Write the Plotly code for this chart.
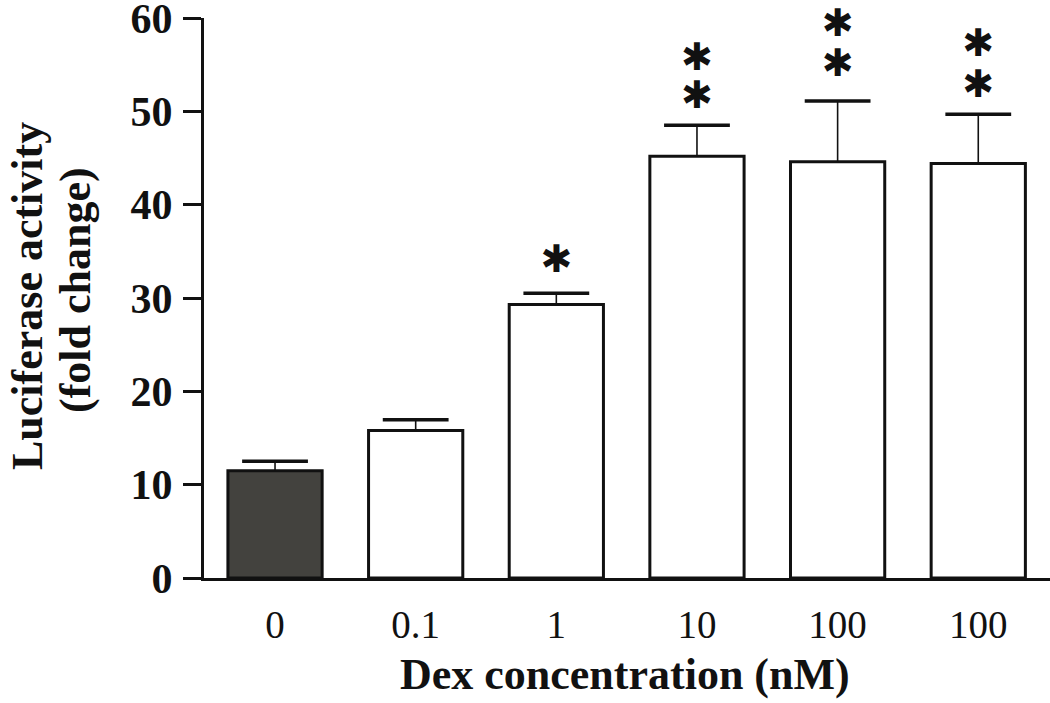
import plotly.graph_objects as go

categories = ["0", "0.1", "1", "10", "100", "100"]
values = [11.5, 15.8, 29.3, 45.2, 44.6, 44.4]
errors = [1.0, 1.15, 1.2, 3.3, 6.5, 5.3]
bar_colors = ["#43423e", "white", "white", "white", "white", "white"]
star_x = [2, 3, 3, 4, 4, 5, 5]
star_y = [33.8, 51.4, 55.5, 54.8, 59.1, 52.6, 56.9]

pos = list(range(len(categories)))
cap_y = [v + e for v, e in zip(values, errors)]

W, H = 1050, 703
ml, mr, mt, mb = 204, 0, 18, 125
pw, ph = W - ml - mr, H - mt - mb

def px_x(px):
    return (px - ml) / pw

def px_y(py):
    return (H - mb - py) / ph

ink = "#111111"
fig = go.Figure()
fig.add_trace(go.Bar(
    x=pos, y=values, width=0.67,
    marker=dict(color=bar_colors, line=dict(color=ink, width=3)),
    error_y=dict(type="data", symmetric=False, array=errors,
                 arrayminus=[0] * len(errors), color=ink,
                 thickness=1.6, width=0),
    showlegend=False,
))
fig.add_trace(go.Scatter(
    x=pos, y=cap_y, mode="markers",
    marker=dict(symbol="line-ew", size=47, line=dict(color=ink, width=3.5)),
    showlegend=False, cliponaxis=False,
))
fig.add_trace(go.Scatter(
    x=star_x, y=star_y, mode="text", text=["✱"] * len(star_x),
    textfont=dict(family="DejaVu Sans", size=38, color=ink),
    textposition="middle center", showlegend=False, cliponaxis=False,
))

fig.update_layout(
    width=W, height=H,
    margin=dict(l=ml, r=mr, t=mt, b=mb, autoexpand=False),
    paper_bgcolor="white", plot_bgcolor="white",
    font=dict(family="Liberation Serif", color=ink),
    xaxis=dict(
        range=[-0.505, 5.51], tickmode="array", tickvals=pos, ticktext=categories,
        showline=True, linecolor=ink, linewidth=3, ticks="",
        showgrid=False, zeroline=False, automargin=False,
        tickfont=dict(family="Liberation Serif", size=39, color=ink),
        ticklabelstandoff=10, ticklabeloverflow="allow",
    ),
    yaxis=dict(
        range=[0, 60], tickmode="array", tickvals=[0, 10, 20, 30, 40, 50, 60],
        showline=True, linecolor=ink, linewidth=3,
        ticks="outside", ticklen=18, tickwidth=3, tickcolor=ink,
        showgrid=False, zeroline=False, automargin=False,
        tickfont=dict(family="Liberation Serif", size=42, color=ink, weight="bold"),
        ticklabelstandoff=2, ticklabeloverflow="allow",
    ),
    annotations=[
        dict(text="<b>Dex concentration (nM)</b>", xref="paper", yref="paper",
             x=px_x(625), y=px_y(674),
             xanchor="center", yanchor="middle", showarrow=False,
             font=dict(family="Liberation Serif", size=44, color=ink)),
        dict(text="<b>Luciferase activity</b>", xref="paper", yref="paper",
             x=px_x(27), y=px_y(296),
             xanchor="center", yanchor="middle", showarrow=False, textangle=-90,
             font=dict(family="Liberation Serif", size=44, color=ink)),
        dict(text="<b>(fold change)</b>", xref="paper", yref="paper",
             x=px_x(75), y=px_y(290),
             xanchor="center", yanchor="middle", showarrow=False, textangle=-90,
             font=dict(family="Liberation Serif", size=44, color=ink)),
    ],
)

fig.write_html("out.html", config={"displayModeBar": False},
               post_script="document.body.style.margin='0';")
